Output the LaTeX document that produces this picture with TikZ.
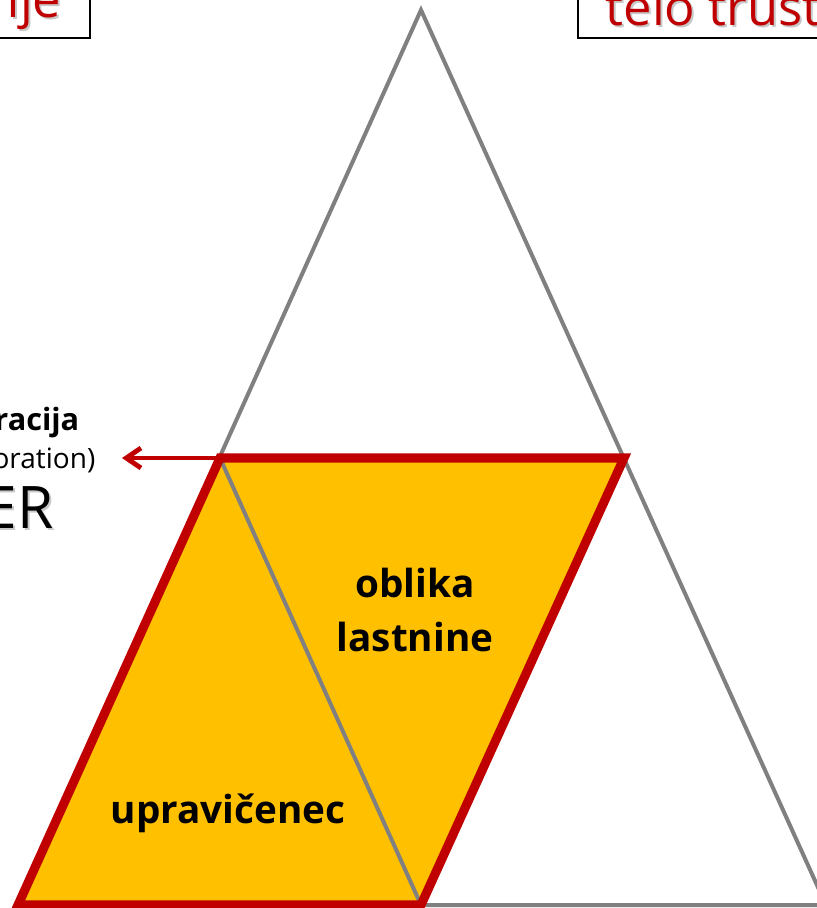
\documentclass[tikz,border=0pt]{standalone}
\usepackage{fontspec}
\setmainfont{Open Sans}
\usetikzlibrary{arrows.meta}
\definecolor{trustred}{HTML}{C00000}
\definecolor{trustgold}{HTML}{FFC000}
\definecolor{trustgray}{HTML}{808080}
\definecolor{shadowgray}{HTML}{C8C8C8}

\begin{document}
\begin{tikzpicture}[x=0.75pt,y=-0.75pt,
  edge/.style={draw=trustgray,line width=3pt},
  rim/.style={draw=trustred,line width=6.8pt,line join=miter},
  part/.style={font=\bfseries\fontsize{29}{40}\selectfont,align=center},
  heading/.style={text=trustred,font=\fontsize{38}{44}\selectfont},
  headshadow/.style={text=shadowgray,font=\fontsize{38}{44}\selectfont},
  frame/.style={draw=black,line width=1.6pt}]
\useasboundingbox (0,0) rectangle (817,908);
\clip (0,0) rectangle (817,908);
% triangle corners
\coordinate (top) at (421,10);
\coordinate (bl) at (18,905);
\coordinate (br) at (826,905);
\coordinate (ml) at (220,458);
\coordinate (mr) at (624,458);
\coordinate (bm) at (421,905);
\coordinate (tip) at (122,458);
% filled part
\fill[trustgold] (ml) -- (mr) -- (bm) -- (bl) -- cycle;
\draw[edge] (bl) -- (top) -- (br) -- cycle;
\draw[edge] (ml) -- (bm);
\draw[rim] (ml) -- (mr) -- (bm) -- (bl) -- cycle;
\draw[trustred,line width=3.6pt,-{Straight Barb[length=11pt,width=15pt]}] (ml) -- (tip);
% labels
\node[part] (oblika) at (415,610) {oblika\\lastnine};
\node[part,anchor=base] (upr) at (228,823) {upravičenec};
\node[font=\bfseries\fontsize{23}{26}\selectfont,anchor=base east] (korp) at (84,430) {racija};
\node[font=\fontsize{21}{24}\selectfont,anchor=base east] (corp) at (100,468) {oration)};
\node[text=shadowgray,font=\fontsize{44}{48}\selectfont,anchor=base east] (ershadow) at (60,530) {ER};
\node[font=\fontsize{44}{48}\selectfont,anchor=base east] (er) at (58,528) {ER};
% boxes at the top
\draw[frame] (-20,-20) rectangle (90,38);
\draw[frame] (578,38) rectangle (840,-20);
\node[headshadow,anchor=base east] (njeshadow) at (68,19) {nje};
\node[heading,anchor=base east] (nje) at (66,17) {nje};
\node[headshadow,anchor=base west] (teloshadow) at (603,27) {telo trusta};
\node[heading,anchor=base west] (telo) at (601,25) {telo trusta};
\end{tikzpicture}
\end{document}
